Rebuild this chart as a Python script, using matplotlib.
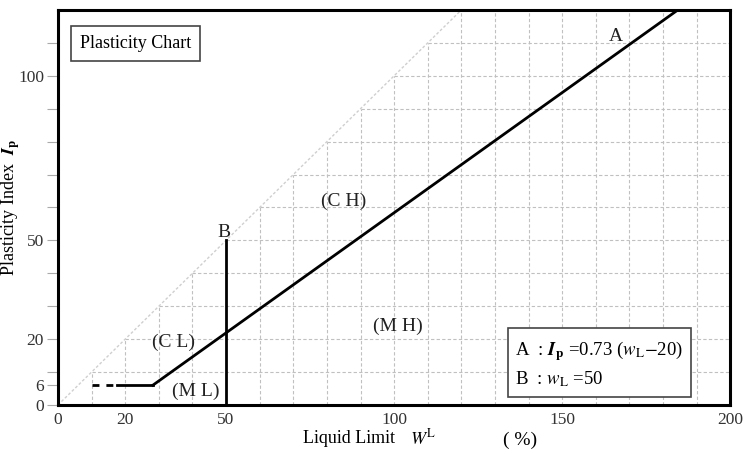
import numpy as np
import matplotlib.pyplot as plt

plt.rcParams['font.family'] = ['Liberation Serif', 'DejaVu Serif']
plt.rcParams['mathtext.fontset'] = 'stix'

# axis ticks
x_ticks = [0, 20, 50, 100, 150, 200]
y_ticks = [0, 6, 20, 50, 100]
y_minor = [10, 30, 40, 60, 70, 80, 90, 110]
grid_step = 10

# A line: Ip = 0.73 (wL - 20), starting at Ip = 6
a_slope = 0.73
a_offset = 20
a_floor = 6
floor_dash_x = [10, 17]
floor_solid_start = 17.5

# B line: wL = 50
b_wl = 50
b_top = 50

# zone labels (wL, Ip)
zones = {'(C H)': (85, 62), '(M H)': (101, 24), '(C L)': (34.5, 19), '(M L)': (41, 4)}

xmax, ymax = 200, 120

fig = plt.figure(figsize=(7.47, 4.54), dpi=100)
ax = fig.add_axes([0.0776, 0.108, 0.9, 0.87])

# staircase grid below the Ip = wL line
for k in range(grid_step, xmax, grid_step):
    ax.plot([k, k], [0, min(k, ymax)], color='#c0c0c0', lw=0.8, ls=(0, (3, 2)), zorder=1)
for k in range(grid_step, ymax, grid_step):
    ax.plot([k, xmax], [k, k], color='#c0c0c0', lw=0.8, ls=(0, (3, 2)), zorder=1)

# Ip = wL dotted boundary
ax.plot([0, ymax], [0, ymax], color='#cfcfcf', lw=1.0, ls=(0, (2, 1.5)), zorder=1)

# A line
x_start = a_offset + a_floor / a_slope
x_end = a_offset + ymax / a_slope
ax.plot([x_start, x_end], [a_floor, ymax], color='black', lw=2, zorder=3)
ax.plot([floor_solid_start, x_start], [a_floor, a_floor], color='black', lw=2, zorder=3)
ax.plot(floor_dash_x, [a_floor, a_floor], color='black', lw=2, ls=(0, (2.5, 2.5)), zorder=3)

# B line
ax.plot([b_wl, b_wl], [0, b_top], color='black', lw=2, zorder=3)

ax.text(166, 112, 'A', fontsize=14, ha='center', va='center', color='#222222')
ax.text(49.5, 52.5, 'B', fontsize=14, ha='center', va='center', color='#222222')
for name, (zx, zy) in zones.items():
    ax.text(zx, zy, name, fontsize=14, ha='center', va='center', color='#222222')

ax.text(0.033, 0.914, 'Plasticity Chart', transform=ax.transAxes, fontsize=13,
        ha='left', va='center',
        bbox=dict(boxstyle='square,pad=0.5', fc='white', ec='#444444', lw=1.2))

legend_txt = ('A  : $\\boldsymbol{I}_{\\mathbf{p}}$ =0.73 ($w_{\\rm L}$$-$20)\n'
              'B  : $w_{\\rm L}$ =50')
ax.text(0.68, 0.04, legend_txt, transform=ax.transAxes, fontsize=13.5,
        ha='left', va='bottom', linespacing=1.45,
        bbox=dict(boxstyle='square,pad=0.4', fc='white', ec='#444444', lw=1.2))

ax.set_xlim(0, xmax)
ax.set_ylim(0, ymax)
ax.set_xticks(x_ticks)
ax.set_yticks(y_ticks)
ax.set_yticks(y_minor, minor=True)
ax.tick_params(axis='x', length=0, labelsize=12.5, colors='#333333', pad=5)
ax.tick_params(axis='y', which='both', direction='out', length=8, width=0.8,
               color='#aaaaaa', labelsize=12.5, labelcolor='#333333', pad=2)
for s in ax.spines.values():
    s.set_linewidth(2.2)

# x label in separate pieces, as spaced in the original
fig.text(395 / 747, 0.035, 'Liquid Limit', fontsize=13, ha='right', va='center')
fig.text(410 / 747, 0.035, '$W^{\\rm L}$', fontsize=13, ha='left', va='center')
fig.text(503 / 747, 0.03, '( %)', fontsize=14, ha='left', va='center')

ax.set_ylabel('Plasticity Index  $\\boldsymbol{I}_{\\mathbf{p}}$', fontsize=13)
ax.yaxis.set_label_coords(-0.053, 0.5)

plt.savefig('out.png', dpi=100)
